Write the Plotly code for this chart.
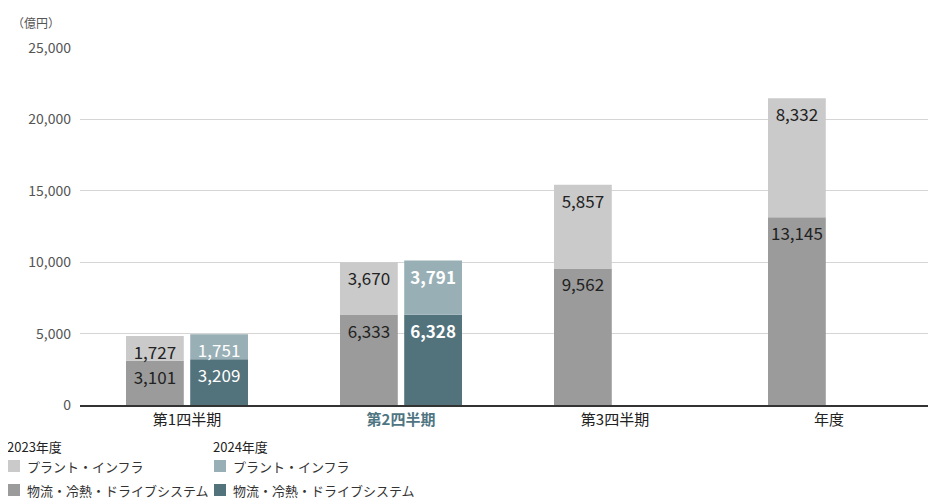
import plotly.graph_objects as go

categories = ["第1四半期", "第2四半期", "第3四半期", "年度"]
tick_labels = ["第1四半期", "<b><span style='color:#4f7582'>第2四半期</span></b>", "第3四半期", "年度"]
logi_2023 = [3101, 6333, 9562, 13145]
plant_2023 = [1727, 3670, 5857, 8332]
logi_2024 = [3209, 6328, 0, 0]
plant_2024 = [1751, 3791, 0, 0]

font = "Noto Sans CJK JP"
W, H = 928, 492
L, T, B = 72, 40, 95
PW, PH = W - L, H - T - B


def px_x(x):
    return (x - L) / PW


def px_y(y_from_bottom):
    return (y_from_bottom - B) / PH


def lbl(vals):
    return [f"{v:,}" if v else "" for v in vals]


fig = go.Figure()
fig.add_trace(go.Bar(x=categories, y=logi_2023, offsetgroup="2023", marker_color="#9b9b9b",
                     text=lbl(logi_2023), textfont=dict(color="#222")))
fig.add_trace(go.Bar(x=categories, y=plant_2023, offsetgroup="2023", base=logi_2023, marker_color="#cacaca",
                     text=lbl(plant_2023), textfont=dict(color="#222")))
fig.add_trace(go.Bar(x=categories, y=logi_2024, offsetgroup="2024", marker_color="#52727c",
                     text=["3,209", "<b>6,328</b>", "", ""], textfont=dict(color="white")))
fig.add_trace(go.Bar(x=categories, y=plant_2024, offsetgroup="2024", base=logi_2024, marker_color="#99afb6",
                     text=["1,751", "<b>3,791</b>", "", ""], textfont=dict(color="white")))
fig.update_traces(textposition="inside", insidetextanchor="end", textangle=0, marker_line_width=0,
                  hoverinfo="skip", cliponaxis=False, textfont_size=17, textfont_family=font)

fig.update_layout(
    width=W, height=H, barmode="group", bargap=0.4, bargroupgap=0.1,
    margin=dict(l=L, r=0, t=T, b=B), showlegend=False,
    plot_bgcolor="white", paper_bgcolor="white",
    font=dict(family=font, size=14, color="#333"),
    uniformtext=dict(mode="show", minsize=17),
)
fig.update_xaxes(tickvals=categories, ticktext=tick_labels, showline=True, linecolor="#333",
                 linewidth=2, ticks="", tickfont=dict(size=15, color="#222"))
fig.update_yaxes(range=[0, 25000], dtick=5000, tickformat=",", gridcolor="#d5d5d5",
                 zeroline=False, ticks="", tickfont=dict(size=14, color="#555"), ticklabelstandoff=8)

fig.add_annotation(text="（億円）", x=px_x(2), y=px_y(H - 14), xref="paper", yref="paper", xanchor="left",
                   yanchor="middle", showarrow=False, font=dict(size=12, color="#555"))

legend = [
    (0, "2023年度", [("#cacaca", "プラント・インフラ"), ("#9b9b9b", "物流・冷熱・ドライブシステム")]),
    (206, "2024年度", [("#99afb6", "プラント・インフラ"), ("#52727c", "物流・冷熱・ドライブシステム")]),
]
for x0, title, items in legend:
    fig.add_annotation(text=title, x=px_x(x0 - 3), y=px_y(54), xref="paper", yref="paper", xanchor="left",
                       yanchor="middle", showarrow=False, font=dict(size=13, color="#222"))
    for i, (c, name) in enumerate(items):
        yc = 34 - i * 24
        fig.add_shape(type="rect", xref="paper", yref="paper", x0=px_x(x0), x1=px_x(x0 + 12),
                      y0=px_y(yc - 6), y1=px_y(yc + 6), fillcolor=c, line_width=0)
        fig.add_annotation(text=name, x=px_x(x0 + 17), y=px_y(yc), xref="paper", yref="paper",
                           xanchor="left", yanchor="middle", showarrow=False,
                           font=dict(size=13, color="#333"))

fig.write_html("out.html")
